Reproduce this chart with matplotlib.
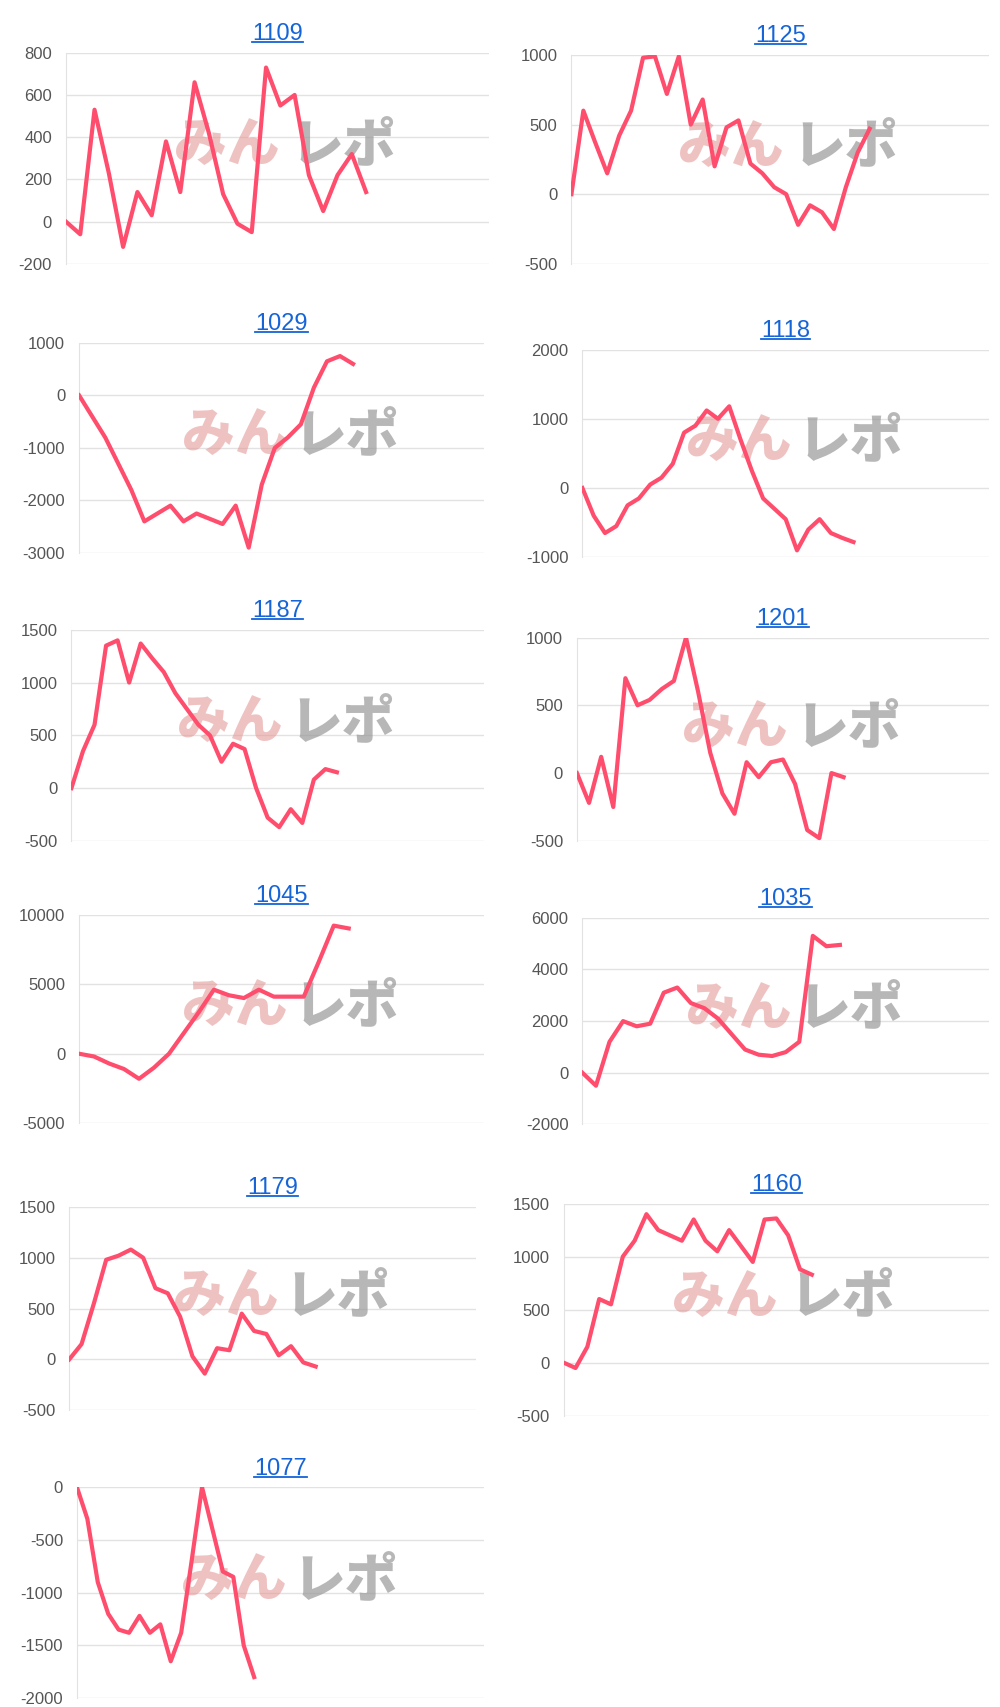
import matplotlib
matplotlib.use("Agg")
import matplotlib.pyplot as plt
import numpy as np

plt.rcParams['axes.unicode_minus'] = False
plt.rcParams['font.family'] = ['Liberation Sans', 'DejaVu Sans']

titles = ["1109","1125","1029","1118","1187","1201","1045","1035","1179","1160","1077"]
s1109 = [0,-60,530,230,-120,140,30,380,140,660,420,130,-10,-50,730,550,600,220,50,220,320,140]
s1125 = [0,600,370,150,420,600,980,990,720,990,500,680,200,480,530,220,150,50,0,-220,-80,-130,-250,50,300,470]
s1029 = [0,-400,-800,-1300,-1800,-2400,-2250,-2100,-2400,-2250,-2350,-2450,-2100,-2900,-1700,-1000,-800,-550,150,650,750,600]
s1118 = [0,-400,-650,-550,-250,-150,50,150,350,800,900,1120,1000,1180,700,250,-150,-300,-450,-900,-600,-450,-650,-720,-780]
s1187 = [0,350,600,1350,1400,1000,1370,1230,1100,900,750,600,500,250,420,370,0,-280,-370,-200,-330,80,180,150]
s1201 = [0,-220,120,-250,700,500,540,620,680,1000,600,150,-150,-300,80,-30,80,100,-80,-420,-480,0,-30]
s1045 = [0,-200,-700,-1100,-1800,-1000,0,1500,3000,4600,4200,4000,4600,4100,4100,4100,6600,9200,9000]
s1035 = [0,-500,1200,2000,1800,1900,3100,3300,2700,2500,2100,1500,900,700,650,800,1200,5300,4900,4950]
s1179 = [0,150,550,980,1020,1080,1000,700,650,420,30,-140,110,90,450,280,250,40,130,-30,-70]
s1160 = [0,-50,150,600,550,1000,1150,1400,1250,1200,1150,1350,1150,1050,1250,1100,950,1350,1360,1200,880,830]
s1077 = [0,-300,-900,-1200,-1350,-1380,-1220,-1380,-1300,-1650,-1380,-700,0,-400,-800,-850,-1500,-1800]
series = [s1109,s1125,s1029,s1118,s1187,s1201,s1045,s1035,s1179,s1160,s1077]
ylims = [(-200,800,200),(-500,1000,500),(-3000,1000,1000),(-1000,2000,1000),(-500,1500,500),
         (-500,1000,500),(-5000,10000,5000),(-2000,6000,2000),(-500,1500,500),(-500,1500,500),(-2000,0,500)]
xmax = [29.6,35,31,36,35.7,34,27,30,33,36,39]

W, H = 910.0, 1553.0
boxes = [(60,445,48,240),(520,900,50,240),(72,440,312,503),(530,900,318,507),
         (65,440,573,765),(525,900,580,765),(72,440,832,1022),(530,900,835,1023),
         (63,433,1098,1283),(513,900,1095,1288),(70,440,1353,1545)]

fig = plt.figure(figsize=(10, 17.07), dpi=100)
for i, (t, s) in enumerate(zip(titles, series)):
    x0, x1, y0, y1 = boxes[i]
    ax = fig.add_axes([x0/W, 1-y1/H, (x1-x0)/W, (y1-y0)/H])
    lo, hi, st = ylims[i]
    ax.plot(range(len(s)), s, color="#ff4d6d", lw=3, solid_joinstyle="round", zorder=3)
    ax.set_ylim(lo, hi)
    ax.set_xlim(0, xmax[i])
    ax.set_yticks(np.arange(lo, hi+1, st))
    ax.yaxis.grid(True, color="#e2e2e2", lw=1)
    ax.set_xticks([])
    for sp in ["top","right","bottom"]:
        ax.spines[sp].set_visible(False)
    ax.spines["left"].set_color("#e2e2e2")
    ax.tick_params(axis="y", length=0, labelsize=12, colors="#555555", pad=10)
    ax.set_title(t, fontsize=17, color="#1565d8", pad=9)
    ax.text(0.255, 0.56, "みん", transform=ax.transAxes, fontsize=38, fontweight="black",
            family=["Noto Sans CJK JP"], color="#e59a9a", alpha=0.6, ha="left", va="center", zorder=2)
    ax.text(0.53, 0.56, "レポ", transform=ax.transAxes, fontsize=38, fontweight="black",
            family=["Noto Sans CJK JP"], color="#999999", alpha=0.7, ha="left", va="center", zorder=2)

fig.canvas.draw()
r = fig.canvas.get_renderer()
for ax in fig.axes:
    bb = ax.title.get_window_extent(r)
    y = bb.y0 + 3
    fig.add_artist(plt.Line2D([bb.x0/1000, bb.x1/1000], [y/1707, y/1707], color="#1565d8", lw=1.3))
fig.savefig("out.png", dpi=100)
